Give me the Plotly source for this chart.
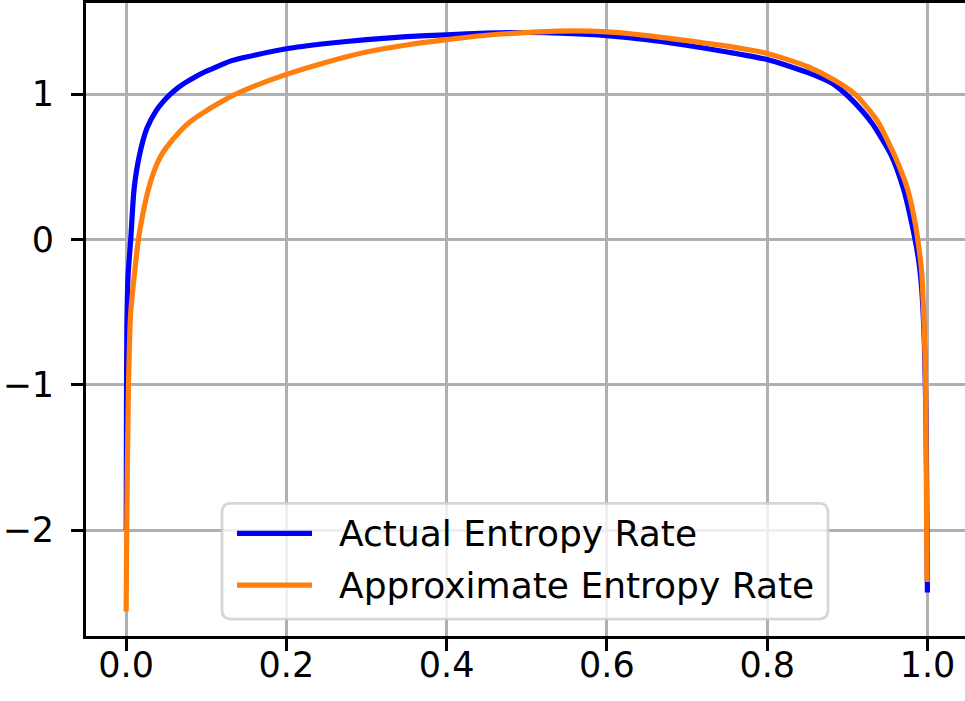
import plotly.graph_objects as go

# Actual entropy rate (blue)
p_actual = [0.0002, 0.0005, 0.001, 0.0025, 0.0058, 0.010, 0.0166, 0.026, 0.038, 0.045,
            0.055, 0.065, 0.074, 0.085, 0.096, 0.11, 0.13, 0.15, 0.2, 0.25,
            0.3, 0.35, 0.4, 0.45, 0.5, 0.55, 0.6, 0.65, 0.695, 0.75,
            0.8, 0.85, 0.8825, 0.903, 0.92, 0.932, 0.955, 0.970, 0.980, 0.9886,
            0.9927, 0.996, 0.998, 0.999, 0.9999]
h_actual = [-2.00, -1.20, -0.60, -0.25, 0.00, 0.348, 0.577, 0.765, 0.890, 0.940,
            0.998, 1.045, 1.079, 1.115, 1.147, 1.180, 1.227, 1.255, 1.312, 1.348,
            1.375, 1.395, 1.408, 1.420, 1.424, 1.418, 1.403, 1.375, 1.340, 1.290,
            1.238, 1.150, 1.070, 0.975, 0.875, 0.790, 0.577, 0.348, 0.120, -0.130,
            -0.337, -0.700, -1.200, -1.700, -2.430]

# Approximate entropy rate (orange)
p_approx = [0.0001, 0.0008, 0.003, 0.0058, 0.0154, 0.020, 0.028, 0.035, 0.042, 0.050,
            0.0674, 0.080, 0.1, 0.115, 0.13, 0.16, 0.2, 0.25, 0.3, 0.35,
            0.4, 0.45, 0.508, 0.56, 0.6, 0.65, 0.695, 0.75, 0.8, 0.85,
            0.8825, 0.9095, 0.928, 0.9386, 0.959, 0.975, 0.9844, 0.9886, 0.9927, 0.9956,
            0.9977, 0.9989, 0.9995]
h_approx = [-2.56, -2.00, -1.00, -0.50, 0.00, 0.150, 0.348, 0.470, 0.560, 0.630,
            0.745, 0.810, 0.885, 0.935, 0.982, 1.055, 1.136, 1.220, 1.290, 1.338,
            1.375, 1.405, 1.426, 1.435, 1.428, 1.403, 1.372, 1.330, 1.280, 1.190,
            1.100, 1.000, 0.885, 0.805, 0.577, 0.348, 0.120, -0.030, -0.223, -0.565,
            -1.000, -2.000, -2.357]

x_ticks = [0.0, 0.2, 0.4, 0.6, 0.8, 1.0]
x_tick_text = ["0.0", "0.2", "0.4", "0.6", "0.8", "1.0"]
y_ticks = [-2, -1, 0, 1]
y_tick_text = ["\u22122", "\u22121", "0", "1"]

series_names = ["Actual Entropy Rate", "Approximate Entropy Rate"]
series_colors = ["#0000ff", "#ff7f0e"]

W, H = 965, 701
ML, MR, MT, MB = 86, 0, 1, 65
PW, PH = W - ML - MR, H - MT - MB
FONT = "DejaVu Sans"


def fx(px):
    return (px - ML) / PW


def fy(py):
    return (H - MB - py) / PH


fig = go.Figure()
for xs, ys, name, col in [(p_actual, h_actual, series_names[0], series_colors[0]),
                          (p_approx, h_approx, series_names[1], series_colors[1])]:
    fig.add_trace(go.Scatter(x=xs, y=ys, mode="lines", name=name,
                             line=dict(color=col, width=5.2, shape="spline", smoothing=0.6),
                             showlegend=False))

axis_common = dict(showline=True, linecolor="black", linewidth=2.8,
                   ticks="outside", ticklen=12, tickwidth=2.8, tickcolor="black",
                   showgrid=True, gridcolor="#b0b0b0", gridwidth=2.8,
                   zeroline=False, tickfont=dict(family=FONT, size=35, color="black"))

fig.update_xaxes(range=[-0.05, 1.0468], tickvals=x_ticks, ticktext=x_tick_text,
                 mirror=True, ticklabelstandoff=-16, **axis_common)
fig.update_yaxes(range=[-2.729, 1.627], tickvals=y_ticks, ticktext=y_tick_text,
                 ticklabelstandoff=10, **axis_common)

# legend box with rounded corners
x0, x1, y0, y1, r = 222, 828, 503, 619, 9
rx, ry = r / PW, r / PH
X0, X1, Y0, Y1 = fx(x0), fx(x1), fy(y1), fy(y0)
path = (f"M{X0 + rx},{Y0} L{X1 - rx},{Y0} Q{X1},{Y0} {X1},{Y0 + ry} "
        f"L{X1},{Y1 - ry} Q{X1},{Y1} {X1 - rx},{Y1} L{X0 + rx},{Y1} "
        f"Q{X0},{Y1} {X0},{Y1 - ry} L{X0},{Y0 + ry} Q{X0},{Y0} {X0 + rx},{Y0} Z")
shapes = [dict(type="path", xref="paper", yref="paper", path=path,
               fillcolor="rgba(255,255,255,0.8)", line=dict(color="rgba(204,204,204,0.8)", width=2.8),
               layer="above")]
annotations = []
for i, (name, col) in enumerate(zip(series_names, series_colors)):
    yy = 533 + i * 52
    shapes.append(dict(type="line", xref="paper", yref="paper",
                       x0=fx(237), x1=fx(312), y0=fy(yy), y1=fy(yy),
                       line=dict(color=col, width=5.2), layer="above"))
    annotations.append(dict(xref="paper", yref="paper", x=fx(337), y=fy(yy),
                            text=name, showarrow=False, xanchor="left", yanchor="middle",
                            font=dict(family=FONT, size=36, color="black")))

fig.update_layout(width=W, height=H, margin=dict(l=ML, r=MR, t=MT, b=MB),
                  plot_bgcolor="white", paper_bgcolor="white",
                  shapes=shapes, annotations=annotations, showlegend=False)

fig.write_html("out.html")
